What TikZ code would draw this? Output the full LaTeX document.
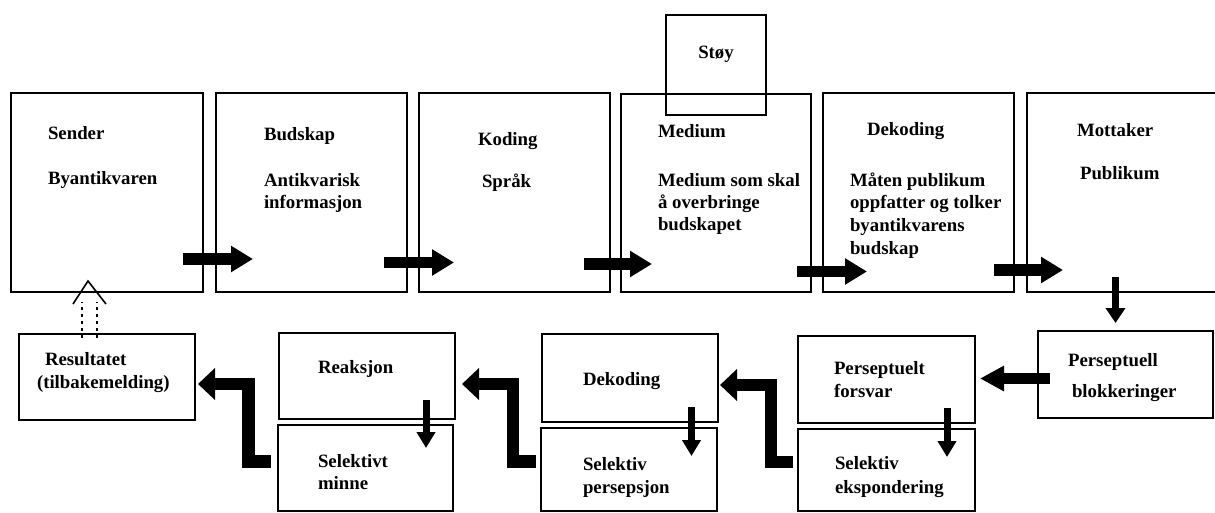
\documentclass[tikz,border=0pt]{standalone}
\usepackage{fontspec}
\setmainfont{Liberation Serif}
\usetikzlibrary{arrows.meta}
\begin{document}
\begin{tikzpicture}[x=1pt,y=-1pt,
  box/.style={draw=black, line width=2.4pt, inner sep=0pt, outer sep=0pt},
  thinbox/.style={draw=black, line width=2pt, inner sep=0pt, outer sep=0pt},
  lbl/.style={anchor=base west, inner sep=0pt, outer sep=0pt, font=\fontsize{18.8}{22}\selectfont\bfseries},
  bigarrow/.style={line width=11.5pt, -{Triangle[width=25pt,length=22pt]}},
  leftarrow/.style={line width=11pt, -{Triangle[width=24pt,length=24pt]}},
  downarrow/.style={line width=7.5pt, -{Triangle[width=19pt,length=15pt]}},
  smallarrow/.style={line width=7pt, -{Triangle[width=18pt,length=16pt]}},
  elbow/.style={line width=12.5pt, line join=miter, -{Triangle[width=31pt,length=17pt]}},
  dotline/.style={line width=2.8pt, dash pattern=on 3pt off 4pt},
  openhead/.style={line width=1.6pt}
]
\fill[white] (0,0) rectangle (1215,513);
\useasboundingbox (0,0) rectangle (1215,513);
\clip (0,0) rectangle (1215,513);

% ---------- top row boxes ----------
\node[box, minimum width=192pt, minimum height=199pt] (sender)   at (107,192.5) {};
\node[box, minimum width=191pt, minimum height=199pt] (budskap)  at (311.5,192.5) {};
\node[box, minimum width=191pt, minimum height=199pt] (koding)   at (514.5,192.5) {};
\node[box, minimum width=190pt, minimum height=198pt] (medium)   at (716,193) {};
\node[box, minimum width=191pt, minimum height=199pt] (dekoding) at (918.5,192.5) {};
\node[box, minimum width=195pt, minimum height=199pt] (mottaker) at (1124.5,192.5) {};
\node[thinbox, minimum width=100pt, minimum height=100pt] (stoy) at (716,65) {};

% ---------- bottom row boxes ----------
\node[box, minimum width=176pt, minimum height=86pt] (result)   at (107,377) {};
\node[box, minimum width=176pt, minimum height=86pt] (reaksjon) at (367,376) {};
\node[box, minimum width=175pt, minimum height=86pt] (minne)    at (365.5,468) {};
\node[box, minimum width=176pt, minimum height=88pt] (dekod2)   at (630,378) {};
\node[box, minimum width=176pt, minimum height=83pt] (persep)   at (629,469.5) {};
\node[box, minimum width=177pt, minimum height=87pt] (forsvar)  at (886.5,379.5) {};
\node[box, minimum width=177pt, minimum height=82pt] (ekspon)   at (886.5,470) {};
\node[box, minimum width=175pt, minimum height=87pt] (blokk)    at (1125.5,374.5) {};

% ---------- texts, top row ----------
\node[lbl] (t1a) at (48,140) {Sender};
\node[lbl] (t1b) at (48,185) {Byantikvaren};
\node[lbl] (t2a) at (264,141) {Budskap};
\node[lbl] (t2b) at (264,187) {Antikvarisk};
\node[lbl] (t2c) at (264,209) {informasjon};
\node[lbl] (t3a) at (478,146) {Koding};
\node[lbl] (t3b) at (482,188) {Språk};
\node[lbl] (t4a) at (658,138) {Medium};
\node[lbl] (t4b) at (658,186) {Medium som skal};
\node[lbl] (t4c) at (658,208) {å overbringe};
\node[lbl] (t4d) at (658,230) {budskapet};
\node[lbl, anchor=base] (ts) at (716,59) {Støy};
\node[lbl] (t5a) at (867,136) {Dekoding};
\node[lbl] (t5b) at (850,186) {Måten publikum};
\node[lbl] (t5c) at (850,208) {oppfatter og tolker};
\node[lbl] (t5d) at (850,231) {byantikvarens};
\node[lbl] (t5e) at (850,254) {budskap};
\node[lbl] (t6a) at (1077,137) {Mottaker};
\node[lbl] (t6b) at (1080,180) {Publikum};

% ---------- texts, bottom row ----------
\node[lbl] (b1a) at (45,365) {Resultatet};
\node[lbl] (b1b) at (37,388) {(tilbakemelding)};
\node[lbl] (b2)  at (318,373) {Reaksjon};
\node[lbl] (b3a) at (318,467) {Selektivt};
\node[lbl] (b3b) at (318,489) {minne};
\node[lbl] (b4)  at (583,385) {Dekoding};
\node[lbl] (b5a) at (583,470) {Selektiv};
\node[lbl] (b5b) at (583,493) {persepsjon};
\node[lbl] (b6a) at (834,374) {Perseptuelt};
\node[lbl] (b6b) at (834,397) {forsvar};
\node[lbl] (b7a) at (835,469) {Selektiv};
\node[lbl] (b7b) at (835,493) {ekspondering};
\node[lbl] (b8a) at (1068,366) {Perseptuell};
\node[lbl] (b8b) at (1072,397) {blokkeringer};

% ---------- arrow end points ----------
\coordinate (a1s) at (183,259);    \coordinate (a1e) at (253,259);
\coordinate (a2s) at (384,262.5);  \coordinate (a2e) at (454,262.5);
\coordinate (a3s) at (584,264);    \coordinate (a3e) at (652,264);
\coordinate (a4s) at (797,271.5);  \coordinate (a4e) at (867,271.5);
\coordinate (a5s) at (994,270);    \coordinate (a5e) at (1063,270);
\coordinate (dns) at (1115.5,277); \coordinate (dne) at (1115.5,323);
\coordinate (lfs) at (1050,378.5); \coordinate (lfe) at (980,378.5);
\coordinate (s1s) at (426,400);    \coordinate (s1e) at (426,448);
\coordinate (s2s) at (691.5,407);  \coordinate (s2e) at (691.5,456);
\coordinate (s3s) at (947,408);    \coordinate (s3e) at (947,457);
\coordinate (e1s) at (271,461.5);  \coordinate (e1b) at (248.5,461.5); \coordinate (e1c) at (248.5,384); \coordinate (e1e) at (198,384);
\coordinate (e2s) at (536,461.5);  \coordinate (e2b) at (513,461.5);   \coordinate (e2c) at (513,384);   \coordinate (e2e) at (462,384);
\coordinate (e3s) at (793,462);    \coordinate (e3b) at (771,462);     \coordinate (e3c) at (771,385);   \coordinate (e3e) at (720,385);
\coordinate (fl1s) at (82,338);    \coordinate (fl1e) at (82,302);
\coordinate (fl2s) at (97,338);    \coordinate (fl2e) at (97,302);
\coordinate (hl) at (73,304);      \coordinate (hapex) at (88,281);    \coordinate (hr) at (106,304);

% ---------- arrows ----------
\draw[bigarrow] (a1s) -- (a1e);
\draw[bigarrow] (a2s) -- (a2e);
\draw[bigarrow] (a3s) -- (a3e);
\draw[bigarrow] (a4s) -- (a4e);
\draw[bigarrow] (a5s) -- (a5e);
\draw[downarrow] (dns) -- (dne);
\draw[leftarrow] (lfs) -- (lfe);
\draw[smallarrow] (s1s) -- (s1e);
\draw[smallarrow] (s2s) -- (s2e);
\draw[smallarrow] (s3s) -- (s3e);
\draw[elbow] (e1s) -- (e1b) -- (e1c) -- (e1e);
\draw[elbow] (e2s) -- (e2b) -- (e2c) -- (e2e);
\draw[elbow] (e3s) -- (e3b) -- (e3c) -- (e3e);
\draw[dotline] (fl1s) -- (fl1e);
\draw[dotline] (fl2s) -- (fl2e);
\draw[openhead] (hl) -- (hapex) -- (hr);
\end{tikzpicture}
\end{document}
